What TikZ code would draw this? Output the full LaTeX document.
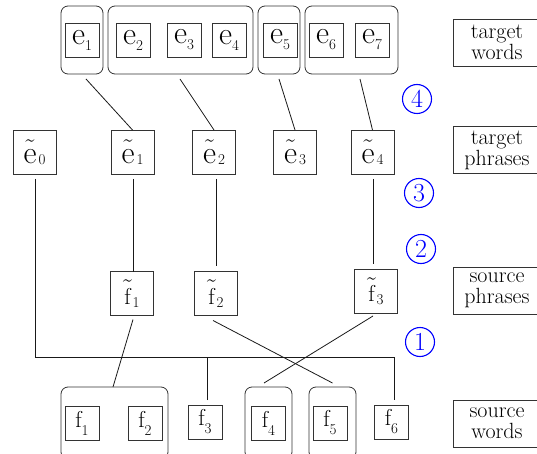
\documentclass[tikz,border=0pt]{standalone}

% letters with subscripts
\newcommand\subf{\fontsize{15}{15}\selectfont}
\newcommand\tildeover[1]{\setbox0\hbox{#1}\rlap{\hbox to\wd0{\hss\raise5.5pt\hbox{\fontsize{29}{29}\selectfont\char"02DC}\hss}}\box0}
\newcommand\ew[1]{{\fontsize{32}{32}\selectfont e}\lower6pt\hbox{\subf #1}}
\newcommand\fw[1]{{\fontsize{23}{23}\selectfont f}\lower8pt\hbox{\subf #1}}
\newcommand\ep[1]{\tildeover{\fontsize{32}{32}\selectfont e}\kern2pt\lower1pt\hbox{\subf #1}}
\newcommand\fp[1]{\tildeover{\fontsize{23}{23}\selectfont f}\kern2pt\lower3pt\hbox{\subf #1}}

\begin{document}
\begin{tikzpicture}[x=1pt,y=-1pt,
  box/.style={draw=black!80, line width=0.8pt, inner sep=0pt, outer sep=0pt},
  wordbox/.style={box, minimum width=34pt, minimum height=34pt},
  phrbox/.style={box, minimum width=43pt, minimum height=44pt},
  grp/.style={draw=black!80, line width=0.8pt, rounded corners=7pt, inner sep=0pt, outer sep=0pt, minimum height=68pt},
  lab/.style={box, minimum width=88pt, minimum height=47pt, align=center, font=\fontsize{22}{21}\selectfont},
  stepnum/.style={circle, draw=blue, text=blue, line width=1.1pt, minimum size=29pt, inner sep=0pt, font=\fontsize{26}{26}\selectfont},
  link/.style={line width=0.8pt, black!90}]
\useasboundingbox (0,0) rectangle (537,454);
\clip (0,0) rectangle (537,454);

% target word groups
\node[grp, minimum width=42pt]  (g1) at (82,40) {};
\node[grp, minimum width=145pt] (g2) at (180.5,40) {};
\node[grp, minimum width=42pt]  (g3) at (279,40) {};
\node[grp, minimum width=93pt]  (g4) at (351.5,40) {};

% target words
\node[wordbox] (e1) at (82,40)  {\ew{1}};
\node[wordbox] (e2) at (133,40) {\ew{2}};
\node[wordbox] (e3) at (184,40) {\ew{3}};
\node[wordbox] (e4) at (229,40) {\ew{4}};
\node[wordbox] (e5) at (280,40) {\ew{5}};
\node[wordbox] (e6) at (326,40) {\ew{6}};
\node[wordbox] (e7) at (372,40) {\ew{7}};

% target phrases
\node[phrbox] (et0) at (34.5,152)  {\ep{0}};
\node[phrbox] (et1) at (132.5,152) {\ep{1}};
\node[phrbox] (et2) at (214,152)   {\ep{2}};
\node[phrbox] (et3) at (295,152)   {\ep{3}};
\node[phrbox] (et4) at (372.5,152) {\ep{4}};

% source phrases
\node[phrbox] (ft1) at (132,293.5) {\fp{1}};
\node[phrbox] (ft2) at (216,293.5) {\fp{2}};
\node[phrbox] (ft3) at (376,291)   {\fp{3}};

% source word groups
\node[grp, minimum width=107pt, minimum height=72pt] (gF12) at (114.5,423) {};
\node[grp, minimum width=47pt,  minimum height=72pt] (gF4)  at (268.5,423) {};
\node[grp, minimum width=47pt,  minimum height=72pt] (gF5)  at (332.5,423) {};

% source words
\node[wordbox] (f1) at (82,423)    {\fw{1}};
\node[wordbox] (f2) at (145,423)   {\fw{2}};
\node[wordbox] (f3) at (205,422)   {\fw{3}};
\node[wordbox] (f4) at (268.5,423) {\fw{4}};
\node[wordbox] (f5) at (330,423)   {\fw{5}};
\node[wordbox] (f6) at (391.5,422) {\fw{6}};

% row labels
\node[lab] (tw) at (497,42.5)  {target\\words};
\node[lab] (tp) at (497,150)   {target\\phrases};
\node[lab] (sp) at (497,290.5) {source\\phrases};
\node[lab] (sw) at (497,423.5) {source\\words};

% step numbers
\node[stepnum] (s4) at (417,99)  {4};
\node[stepnum] (s3) at (419,193) {3};
\node[stepnum] (s2) at (421,249) {2};
\node[stepnum] (s1) at (420,342) {1};

% word groups to target phrases
\draw[link] ([xshift=4pt,yshift=-5pt]g1.south) -- (et1.north);
\draw[link] ([xshift=-0.5pt,yshift=-5pt]g2.south) -- (et2.north);
\draw[link] ([yshift=-5pt]g3.south) -- (et3.north);
\draw[link] ([xshift=8.5pt,yshift=-5pt]g4.south) -- (et4.north);

% target phrases to source phrases
\draw[link] ([xshift=1pt,yshift=-5pt]et1.south) -- ([xshift=1pt]et1.south |- ft1.north);
\draw[link] ([xshift=2.5pt,yshift=-5pt]et2.south) -- ([xshift=0.5pt,yshift=6pt]ft2.north);
\draw[link] ([xshift=0.5pt,yshift=-5pt]et4.south) -- ([xshift=-3pt,yshift=5pt]ft3.north);

% the empty phrase and unaligned source words
\coordinate (bus) at (0,357);
\draw[link] ([xshift=0.5pt,yshift=-5pt]et0.south) -- ([xshift=0.5pt]et0.south |- bus) -| ([xshift=2.5pt,yshift=5pt]f6.north);
\draw[link] ([xshift=2pt,yshift=5pt]f3.north) -- ([xshift=2pt]f3.north |- bus);

% source phrases to source word groups
\draw[link] ([xshift=1pt,yshift=-4pt]ft1.south) -- ([xshift=-1.5pt]gF12.north);
\draw[link] ([xshift=-3pt,yshift=-5pt]ft2.south) -- ([yshift=4pt]gF5.north);
\draw[link] ([xshift=-3pt,yshift=-3pt]ft3.south) -- ([xshift=-4.5pt,yshift=4pt]gF4.north);
\end{tikzpicture}
\end{document}
